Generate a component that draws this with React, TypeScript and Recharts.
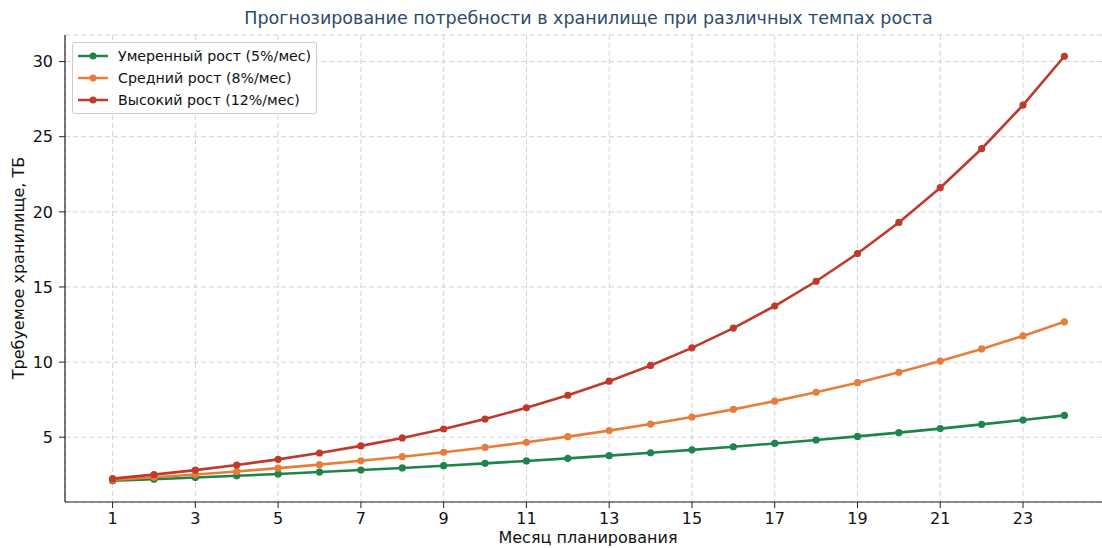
import { ComposedChart, Line, XAxis, YAxis, CartesianGrid } from 'recharts';

const months = [1, 2, 3, 4, 5, 6, 7, 8, 9, 10, 11, 12, 13, 14, 15, 16, 17, 18, 19, 20, 21, 22, 23, 24];
const moderate = [2.1, 2.205, 2.315, 2.431, 2.553, 2.68, 2.814, 2.955, 3.103, 3.258, 3.421, 3.592, 3.771, 3.96, 4.158, 4.366, 4.584, 4.813, 5.054, 5.307, 5.572, 5.851, 6.143, 6.45];
const medium = [2.16, 2.333, 2.519, 2.721, 2.939, 3.174, 3.428, 3.702, 3.998, 4.318, 4.663, 5.036, 5.439, 5.874, 6.344, 6.852, 7.4, 7.992, 8.631, 9.322, 10.068, 10.873, 11.743, 12.682];
const high = [2.24, 2.509, 2.81, 3.147, 3.525, 3.948, 4.421, 4.952, 5.546, 6.212, 6.957, 7.792, 8.727, 9.774, 10.947, 12.261, 13.732, 15.38, 17.226, 19.293, 21.608, 24.201, 27.105, 30.357];
const xTicks = [1, 3, 5, 7, 9, 11, 13, 15, 17, 19, 21, 23];
const yTicks = [5, 10, 15, 20, 25, 30];

const series = [
  { key: 'moderate', name: 'Умеренный рост (5%/мес)', color: '#1e8449' },
  { key: 'medium', name: 'Средний рост (8%/мес)', color: '#e67e3a' },
  { key: 'high', name: 'Высокий рост (12%/мес)', color: '#c0392b' },
];

const FONT = '"DejaVu Sans", sans-serif';

function LegendBox() {
  return (
    <div
      style={{
        position: 'absolute',
        left: 72,
        top: 42,
        background: 'rgba(255,255,255,0.85)',
        border: '1px solid #cccccc',
        borderRadius: 3,
        padding: '2px 5px 2px 5px',
        fontFamily: FONT,
        fontSize: 14.2,
        color: '#111',
      }}
    >
      {series.map((s) => (
        <div key={s.key} style={{ display: 'flex', alignItems: 'center', height: 22 }}>
          <svg width={30} height={10} style={{ marginRight: 10 }}>
            <line x1={0} y1={5} x2={30} y2={5} stroke={s.color} strokeWidth={2.5} />
            <circle cx={15} cy={5} r={3.5} fill={s.color} />
          </svg>
          <span>{s.name}</span>
        </div>
      ))}
    </div>
  );
}

export default function App() {
  const data = months.map((m, i) => ({
    month: m,
    moderate: moderate[i],
    medium: medium[i],
    high: high[i],
  }));

  return (
    <div style={{ position: 'absolute', left: 0, top: 0, width: 1102, height: 548, overflow: 'hidden', background: '#fff' }}>
      <div
        style={{
          position: 'absolute',
          left: 0,
          width: 1177,
          top: 8,
          textAlign: 'center',
          fontFamily: FONT,
          fontSize: 17.5,
          color: '#2c4a6e',
          whiteSpace: 'nowrap',
        }}
      >
        Прогнозирование потребности в хранилище при различных темпах роста
      </div>
      <ComposedChart width={1130} height={548} data={data} margin={{ top: 35, right: 18, bottom: 0, left: 0 }}>
        <CartesianGrid stroke="#d4d4d4" strokeDasharray="5 3" vertical horizontal />
        <XAxis
          dataKey="month"
          type="number"
          domain={[-0.15, 25.15]}
          ticks={xTicks}
          height={46}
          tickSize={6}
          tickMargin={5}
          tick={{ fill: '#111', fontSize: 16, fontFamily: FONT }}
          tickLine={{ stroke: '#222' }}
          axisLine={{ stroke: '#222', strokeWidth: 1.2 }}
          allowDataOverflow
        />
        <XAxis
          xAxisId="top"
          orientation="top"
          dataKey="month"
          type="number"
          domain={[-0.15, 25.15]}
          height={0}
          tick={false}
          tickLine={false}
          axisLine={{ stroke: '#222', strokeWidth: 1.2 }}
        />
        <YAxis
          type="number"
          domain={[0.687, 31.77]}
          ticks={yTicks}
          width={65}
          tickSize={6}
          tickMargin={6}
          tick={{ fill: '#111', fontSize: 16, fontFamily: FONT }}
          tickLine={{ stroke: '#222' }}
          axisLine={{ stroke: '#222', strokeWidth: 1.2 }}
          allowDataOverflow
        />
        {series.map((s) => (
          <Line
            key={s.key}
            dataKey={s.key}
            name={s.name}
            stroke={s.color}
            strokeWidth={2.6}
            dot={{ r: 3.6, fill: s.color, stroke: s.color, strokeWidth: 0 }}
            activeDot={false}
            isAnimationActive={false}
          />
        ))}
      </ComposedChart>
      <LegendBox />
      <svg width={1102} height={548} style={{ position: 'absolute', left: 0, top: 0, pointerEvents: 'none' }}>
        <text x={588} y={543} textAnchor="middle" fontFamily={FONT} fontSize={16} fill="#111">
          Месяц планирования
        </text>
        <text
          x={0}
          y={0}
          transform="translate(24,268) rotate(-90)"
          textAnchor="middle"
          fontFamily={FONT}
          fontSize={16}
          fill="#111"
        >
          Требуемое хранилище, ТБ
        </text>
      </svg>
    </div>
  );
}
